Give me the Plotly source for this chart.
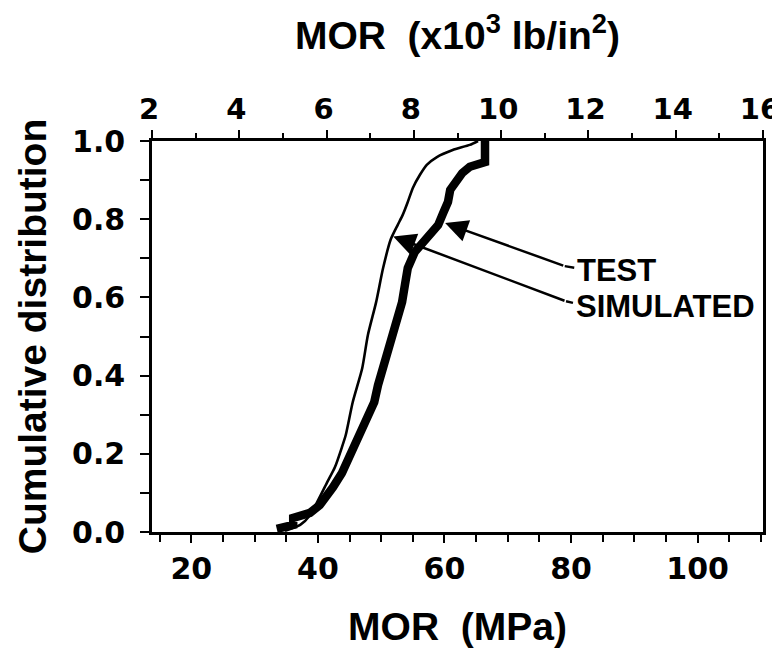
import plotly.graph_objects as go

# ---- data ----
test_mor = [33.5, 36.1, 36.1, 38.75, 40.3, 41.4, 42.4, 43.8, 44.75, 45.5, 46.3, 47.9, 48.9, 49.5,
            50.3, 51.1, 52.0, 52.65, 53.3, 53.75, 54.2, 55.3, 57.5, 59.0, 59.8, 60.55, 60.9,
            61.7, 62.8, 64.0, 66.4, 66.4]
test_cdf = [0.008, 0.018, 0.036, 0.049, 0.069, 0.090, 0.115, 0.151, 0.184, 0.217, 0.248, 0.292,
            0.332, 0.376, 0.419, 0.460, 0.504, 0.547, 0.588, 0.632, 0.675, 0.716, 0.760, 0.785,
            0.816, 0.844, 0.875, 0.895, 0.918, 0.934, 0.946, 1.0]

sim_mor = [34.8, 37.2, 38.75, 39.9, 41.4, 42.7, 43.8, 44.4, 45.5, 47.0, 47.9, 49.2, 50.3, 51.5,
           52.6, 53.4, 54.2, 55.0, 56.1, 57.2, 58.8, 61.3, 64.0, 65.3]
sim_cdf = [0.003, 0.018, 0.043, 0.077, 0.125, 0.166, 0.217, 0.248, 0.332, 0.419, 0.504, 0.588,
           0.675, 0.748, 0.785, 0.811, 0.844, 0.880, 0.913, 0.939, 0.959, 0.977, 0.990, 1.0]

mpa_ticks = [20, 40, 60, 80, 100]
ksi_ticks = [2, 4, 6, 8, 10, 12, 14, 16]
cdf_ticks = [0.0, 0.2, 0.4, 0.6, 0.8, 1.0]

labels = ["TEST", "SIMULATED"]
arrow_tips = [(60.1, 0.790), (51.9, 0.756)]      # (MPa, cdf) where arrows point
arrow_tails = [(79.0, 0.680), (79.2, 0.590)]
label_pos = [(80.6, 0.670), (80.4, 0.576)]

FONT = "Liberation Sans"
TICKFONT = "DejaVu Sans"
BLACK = "black"

fig = go.Figure()
fig.add_trace(go.Scatter(x=sim_mor, y=sim_cdf, mode="lines",
                         line=dict(color=BLACK, width=2.6, shape="spline", smoothing=0.6),
                         showlegend=False, hoverinfo="skip"))
fig.add_trace(go.Scatter(x=test_mor, y=test_cdf, mode="lines",
                         line=dict(color=BLACK, width=8.5), showlegend=False, hoverinfo="skip"))
# dummy trace for top axis (ksi)
fig.add_trace(go.Scatter(x=[2, 16], y=[None, None], xaxis="x2", mode="markers",
                         showlegend=False, hoverinfo="skip"))

for lab, tip, tail, pos in zip(labels, arrow_tips, arrow_tails, label_pos):
    fig.add_annotation(x=tip[0], y=tip[1], ax=tail[0], ay=tail[1], xref="x", yref="y",
                       axref="x", ayref="y", text="", showarrow=True, arrowhead=2,
                       arrowsize=1.8, arrowwidth=2.5, arrowcolor=BLACK, standoff=0)
    fig.add_shape(type="line", x0=tail[0], y0=tail[1], x1=pos[0] - 0.1, y1=tail[1] - 0.004,
                  xref="x", yref="y", line=dict(color=BLACK, width=2.5))
    fig.add_annotation(x=pos[0], y=pos[1], xref="x", yref="y", text=lab, showarrow=False,
                       xanchor="left", yanchor="middle",
                       font=dict(family=FONT, size=31, color=BLACK, weight="bold"))

tickfont = dict(family=TICKFONT, size=30, color=BLACK, weight="bold")
toptickfont = dict(family=TICKFONT, size=29, color=BLACK, weight="bold")
titlefont = dict(family=FONT, size=39, color=BLACK, weight="bold")

fig.update_layout(
    width=780, height=659,
    margin=dict(l=144, r=25, t=133, b=135, autoexpand=False),
    paper_bgcolor="white", plot_bgcolor="white",
    xaxis=dict(range=[13.79, 110.32], tickvals=mpa_ticks, ticks="outside", ticklen=8,
               tickwidth=2, tickcolor=BLACK, showline=True, linewidth=2.5, linecolor=BLACK,
               showgrid=False, zeroline=False, tickfont=tickfont, automargin=False,
               minor=dict(dtick=5, tick0=0, ticks="outside", ticklen=7, tickwidth=2,
                          tickcolor=BLACK, showgrid=False),
               title=dict(text="MOR\u00a0\u00a0(MPa)", font=titlefont, standoff=28)),
    xaxis2=dict(range=[2, 16], overlaying="x", side="top", tickvals=ksi_ticks, ticks="outside",
                ticklen=8, tickwidth=2, tickcolor=BLACK, showline=True, linewidth=2.5,
                linecolor=BLACK, showgrid=False, zeroline=False, tickfont=toptickfont,
                automargin=False, ticklabeloverflow="allow", ticklabelshift=-3,
                minor=dict(dtick=1, tick0=0, ticks="outside", ticklen=5, tickwidth=2,
                           tickcolor=BLACK, showgrid=False),
                title=dict(text="MOR\u00a0\u00a0(x10<sup>3</sup> lb/in<sup>2</sup>)",
                           font=titlefont, standoff=32)),
    yaxis=dict(range=[0, 1], tickvals=cdf_ticks, tickformat=".1f", ticks="outside", ticklen=9,
               tickwidth=2, tickcolor=BLACK, showline=True, linewidth=2.5, linecolor=BLACK,
               mirror=True, showgrid=False, zeroline=False, tickfont=tickfont,
               automargin=False, ticklabelstandoff=9,
               minor=dict(dtick=0.1, ticks="outside", ticklen=9, tickwidth=2, tickcolor=BLACK,
                          showgrid=False),
               title=dict(text="Cumulative distribution", font=titlefont, standoff=14)),
)

fig.write_html("out.html")
